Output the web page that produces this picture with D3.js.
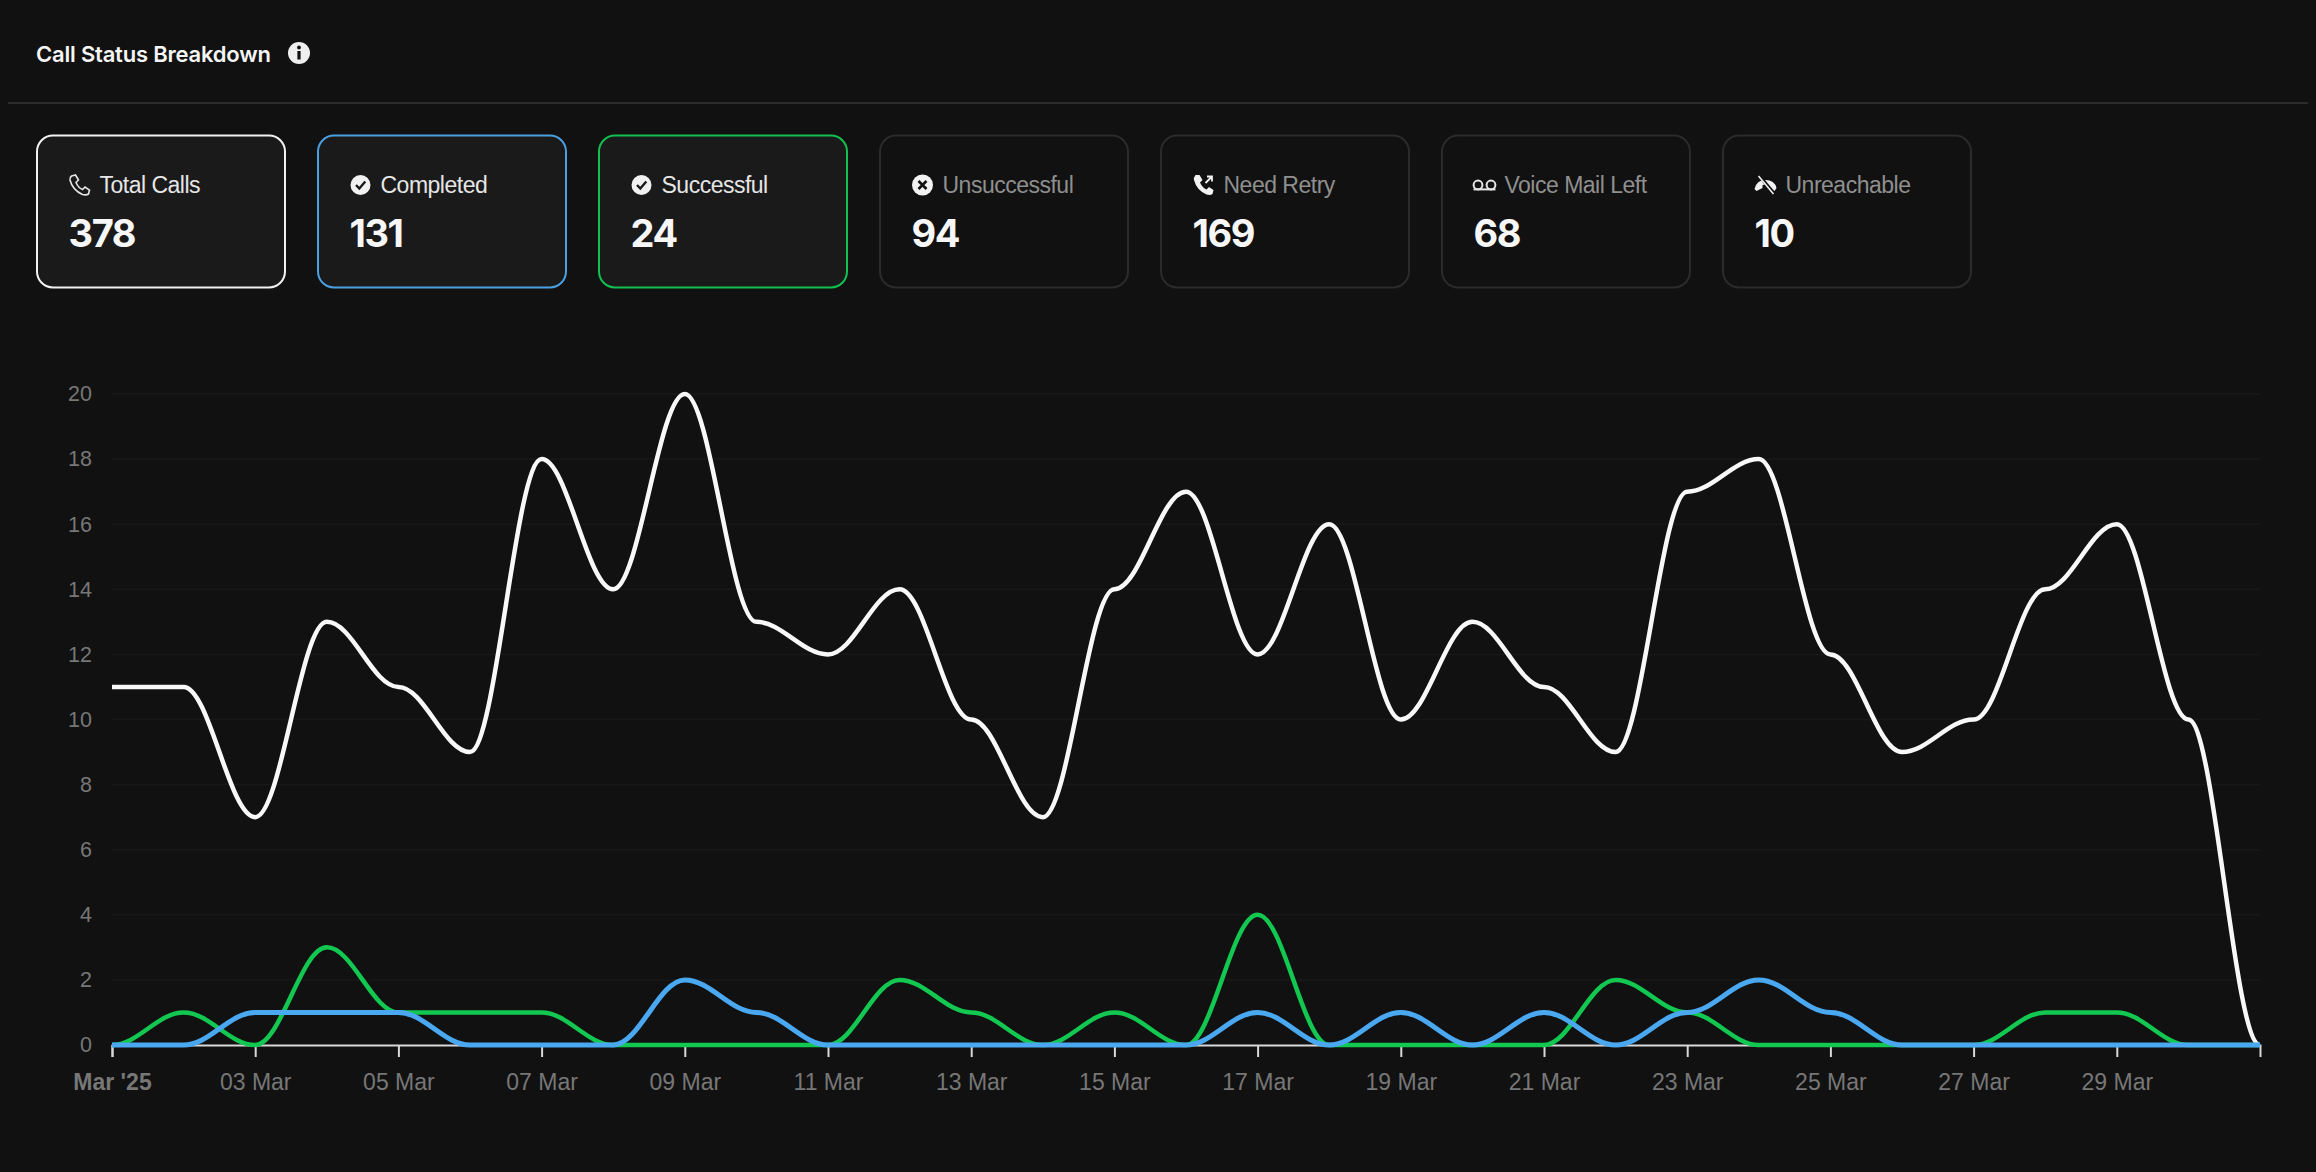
<!DOCTYPE html>
<html><head><meta charset="utf-8">
<script src="https://cdn.jsdelivr.net/npm/d3@7"></script>
<style>
html,body{margin:0;padding:0;background:#111111;overflow:hidden}
svg{display:block}
</style></head><body>
<svg id="c" width="2316" height="1172"></svg>
<script>
const title = "Call Status Breakdown";
const days = d3.range(1,32);
const totalCalls = [11,11,7,13,11,9,18,14,20,13,12,14,10,7,14,17,12,16,10,13,11,9,17,18,12,9,10,14,16,10,0];
const successful = [0,1,0,3,1,1,1,0,0,0,0,2,1,0,1,0,4,0,0,0,0,2,1,0,0,0,0,1,1,0,0];
const completed  = [0,0,1,1,1,0,0,0,2,1,0,0,0,0,0,0,1,0,1,0,1,0,1,2,1,0,0,0,0,0,0];
const yTicks = [0,2,4,6,8,10,12,14,16,18,20];
const xTickDays = [1,3,5,7,9,11,13,15,17,19,21,23,25,27,29];
const xTickLabels = ["Mar '25","03 Mar","05 Mar","07 Mar","09 Mar","11 Mar","13 Mar","15 Mar","17 Mar","19 Mar","21 Mar","23 Mar","25 Mar","27 Mar","29 Mar"];
const cardLabels = ["Total Calls","Completed","Successful","Unsuccessful","Need Retry","Voice Mail Left","Unreachable"];
const cardValues = [378,131,24,94,169,68,10];
const cardBorders = ["#f2f2f2","#4a9fe0","#12c050","#2b2b2b","#2b2b2b","#2b2b2b","#2b2b2b"];
const cardFills = ["#1a1a1a","#1a1a1a","#1a1a1a","#111111","#111111","#111111","#111111"];
const cardLabelColors = ["#e6e6e6","#e6e6e6","#e6e6e6","#8f8f8f","#8f8f8f","#8f8f8f","#8f8f8f"];
const FONT = "Inter, 'Liberation Sans', sans-serif";
const svg = d3.select("#c");

svg.append("text").attr("x",36).attr("y",62).attr("fill","#f5f5f5")
  .style("font",`600 22px ${FONT}`).style("letter-spacing","-0.2px").text(title);
const info = svg.append("g").attr("transform","translate(299,53)");
info.append("circle").attr("r",11).attr("fill","#efefef");
info.append("rect").attr("x",-1.6).attr("y",-2).attr("width",3.2).attr("height",8.5).attr("fill","#111");
info.append("circle").attr("cy",-5.5).attr("r",1.9).attr("fill","#111");
svg.append("rect").attr("x",8).attr("y",102).attr("width",2300).attr("height",2).attr("fill","#2c2c2c");

const cardX = d3.scaleLinear().domain([0,1]).range([36.5,317.5]);
const icons = [
 g=>g.append("path").attr("d","M-8,-9 L-4,-10 L-1,-5 L-3.5,-2.5 Q-1,3 3,4.5 L5.5,2 L10,5 L9,9 Q7,10.5 3,9.5 Q-7,5 -9.5,-5 Q-10,-7.5 -8,-9Z").attr("fill","none").attr("stroke","#e6e6e6").attr("stroke-width",1.6),
 g=>{g.append("circle").attr("r",10).attr("fill","#f2f2f2");g.append("path").attr("d","M-4.5,0 L-1.2,3.5 L4.8,-3.5").attr("fill","none").attr("stroke","#1a1a1a").attr("stroke-width",2.4);},
 g=>{g.append("circle").attr("r",10).attr("fill","#f2f2f2");g.append("path").attr("d","M-4.5,0 L-1.2,3.5 L4.8,-3.5").attr("fill","none").attr("stroke","#1a1a1a").attr("stroke-width",2.4);},
 g=>{g.append("circle").attr("r",10.5).attr("fill","#f2f2f2");g.append("path").attr("d","M-4,-4 L4,4 M4,-4 L-4,4").attr("fill","none").attr("stroke","#111").attr("stroke-width",2.6);},
 g=>{g.append("path").attr("d","M-8,-10 L-4,-10 L-1,-5 L-3.5,-2.5 Q-1,3 3,4.5 L5.5,2 L10,5 L9,9 Q7,10.5 3,9.5 Q-7,5 -9.5,-5 Q-10,-7.5 -8,-10Z").attr("fill","#f2f2f2");g.append("path").attr("d","M2,-2 L8,-8 M3.5,-8.5 L8.5,-8.5 L8.5,-3.5").attr("fill","none").attr("stroke","#f2f2f2").attr("stroke-width",1.8);},
 g=>{[-6.5,6.5].forEach(c=>g.append("circle").attr("cx",c).attr("r",4.4).attr("fill","none").attr("stroke","#e6e6e6").attr("stroke-width",2));g.append("path").attr("d","M-11,4.4 L11,4.4").attr("stroke","#e6e6e6").attr("stroke-width",2);},
 g=>{g.append("path").attr("d","M-11,4 Q-9,-5 0,-5 Q9,-5 11,3 L9,6 L3,3 L3,0 Q0,-1 -3,0 L-3,3 L-9,6Z").attr("fill","#f2f2f2");g.append("path").attr("d","M-6,-9 L9,9").attr("stroke","#111").attr("stroke-width",3.5);g.append("path").attr("d","M-7,-9 L8,9").attr("stroke","#f2f2f2").attr("stroke-width",1.6);}
];
const cards = svg.selectAll("g.card").data(cardLabels).join("g").attr("class","card")
  .attr("transform",(d,i)=>`translate(${cardX(i)},135)`);
cards.append("rect").attr("x",0.5).attr("y",0.5).attr("width",248).attr("height",152).attr("rx",16)
  .attr("fill",(d,i)=>cardFills[i]).attr("stroke",(d,i)=>cardBorders[i]).attr("stroke-width",2);
cards.append("text").attr("x",63).attr("y",58).attr("fill",(d,i)=>cardLabelColors[i])
  .style("font",`400 23px 'Liberation Sans', sans-serif`).style("letter-spacing","-0.5px").text(d=>d);
cards.append("text").attr("x",32).attr("y",112).attr("fill","#f7f7f7")
  .style("font",`700 38px ${FONT}`).style("letter-spacing","-1.4px").text((d,i)=>cardValues[i]);
cards.each(function(d,i){ const g=d3.select(this).append("g").attr("transform",`translate(${43},50)`); icons[i](g); });

const m = {l:112,r:2260,t:394,b:1045};
const x = d3.scaleLinear().domain([1,31]).range([m.l,m.r]);
const y = d3.scaleLinear().domain([0,20]).range([m.b,m.t]);

const grid = svg.append("g");
grid.selectAll("line").data(yTicks.slice(1)).join("line")
  .attr("x1",m.l).attr("x2",m.r).attr("y1",y).attr("y2",y).attr("stroke","#181818").attr("stroke-width",1.5);

const yAxis = svg.append("g").attr("transform",`translate(${m.l},0)`)
  .call(d3.axisLeft(y).tickValues(yTicks).tickSize(0).tickPadding(20));
yAxis.select(".domain").remove();
yAxis.selectAll("text").attr("fill","#777").style("font","21.5px 'Liberation Sans', sans-serif");

const xAxis = svg.append("g").attr("transform",`translate(0,${m.b})`)
  .call(d3.axisBottom(x).tickValues(xTickDays).tickFormat((d,i)=>xTickLabels[i]).tickSize(12).tickPadding(17));
xAxis.select(".domain").attr("stroke","#d8d8d8").attr("stroke-width",2);
xAxis.selectAll("line").attr("stroke","#d8d8d8").attr("stroke-width",2);
xAxis.selectAll("text").attr("fill","#777").style("font","23px 'Liberation Sans', sans-serif");
xAxis.select(".tick text").style("font-weight","700");

// horizontal-tangent cubic between samples, handles at a fraction k of the step
function flatTangent(context){
  const k = 0.36; let px, py, n = 0;
  return {
    areaStart(){}, areaEnd(){},
    lineStart(){ n = 0; },
    lineEnd(){},
    point(a,b){ a=+a; b=+b;
      if(n++===0) context.moveTo(a,b);
      else context.bezierCurveTo(px+(a-px)*k,py,a-(a-px)*k,b,a,b);
      px=a; py=b;
    }
  };
}
const line = d3.line().x((d,i)=>x(days[i])).y(d=>y(d)).curve(flatTangent);
[[totalCalls,"#f8f8f8",4.5],[successful,"#12c850",4.5],[completed,"#4aa8f0",5]].forEach(([s,c,w])=>{
  svg.append("path").datum(s).attr("d",line).attr("fill","none").attr("stroke",c).attr("stroke-width",w);
});
</script>
</body></html>
